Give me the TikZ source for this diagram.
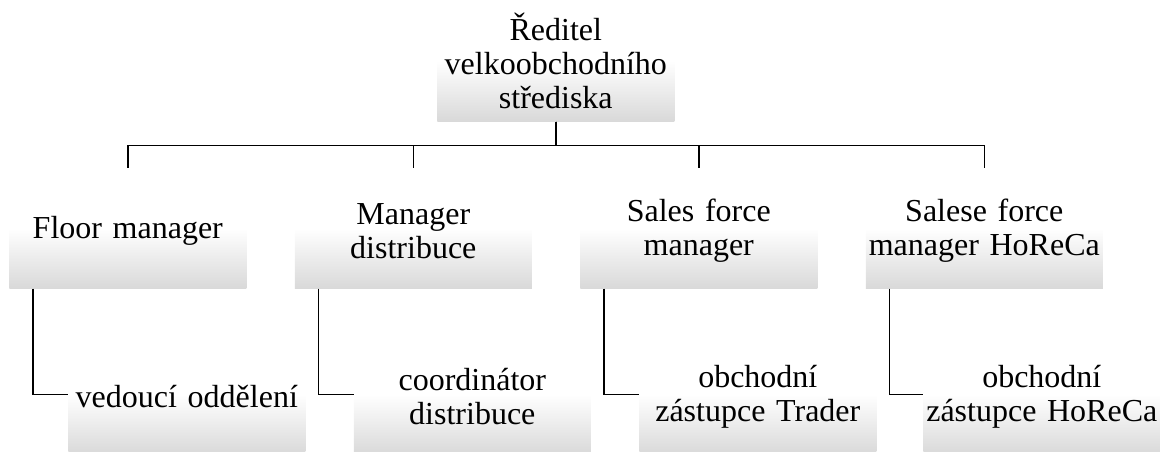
\documentclass[tikz,border=0pt]{standalone}
\usepackage{fontspec}
\setmainfont{Liberation Serif}
\usepackage{xcolor}
\usepackage{tikz}
\usetikzlibrary{positioning}
\hyphenpenalty=10000
% white in the upper half, fading to grey at the foot
\pgfdeclareverticalshading{boxfade}{100bp}{color(0bp)=(black!15); color(25bp)=(black!15); color(50bp)=(white); color(100bp)=(white)}
\tikzset{
  org-box/.style={shading=boxfade,anchor=north west,inner xsep=1.9pt,inner ysep=0pt,
    text width=174pt,minimum width=177.75pt,minimum height=90pt,align=center,
    font=\fontsize{24}{25.5}\selectfont},
  org-low/.style={org-box,execute at begin node={\vrule height 20pt width 0pt}},
  org-link/.style={draw=black,line width=1.05pt},
}

\begin{document}
\begin{tikzpicture}[x=0.75pt,y=-0.75pt]
  \useasboundingbox (0,0) rectangle (1160,452);
  \node[org-box,minimum height=90.75pt] (ceo) at (437,0) {Ředitel velkoobchodního střediska};
  % second level
  \node[org-low] (floor) at (9,168) {Floor manager};
  \node[org-low] (distr) at (294.5,168) {Manager distribuce};
  \node[org-low] (sales) at (580,168) {Sales force manager};
  \node[org-low] (horeca) at (865.5,168) {Salese force manager HoReCa};
  % third level
  \node[org-low] (dept) at (68,334) {vedoucí oddělení};
  \node[org-low] (coord) at (353.5,334) {coordinátor distribuce};
  \node[org-low] (trader) at (639,334) {obchodní zástupce Trader};
  \node[org-low] (agent) at (923,334) {obchodní zástupce HoReCa};
  \draw[org-link] (ceo.south) -- ++(0,24) -| (floor.north);
  \draw[org-link] (ceo.south) -- ++(0,24) -| (distr.north);
  \draw[org-link] (ceo.south) -- ++(0,24) -| (sales.north);
  \draw[org-link] (ceo.south) -- ++(0,24) -| (horeca.north);
  \draw[org-link] ([xshift=18pt]floor.south west) |- (dept.west);
  \draw[org-link] ([xshift=18pt]distr.south west) |- (coord.west);
  \draw[org-link] ([xshift=18pt]sales.south west) |- (trader.west);
  \draw[org-link] ([xshift=18pt]horeca.south west) |- (agent.west);
\end{tikzpicture}
\end{document}
